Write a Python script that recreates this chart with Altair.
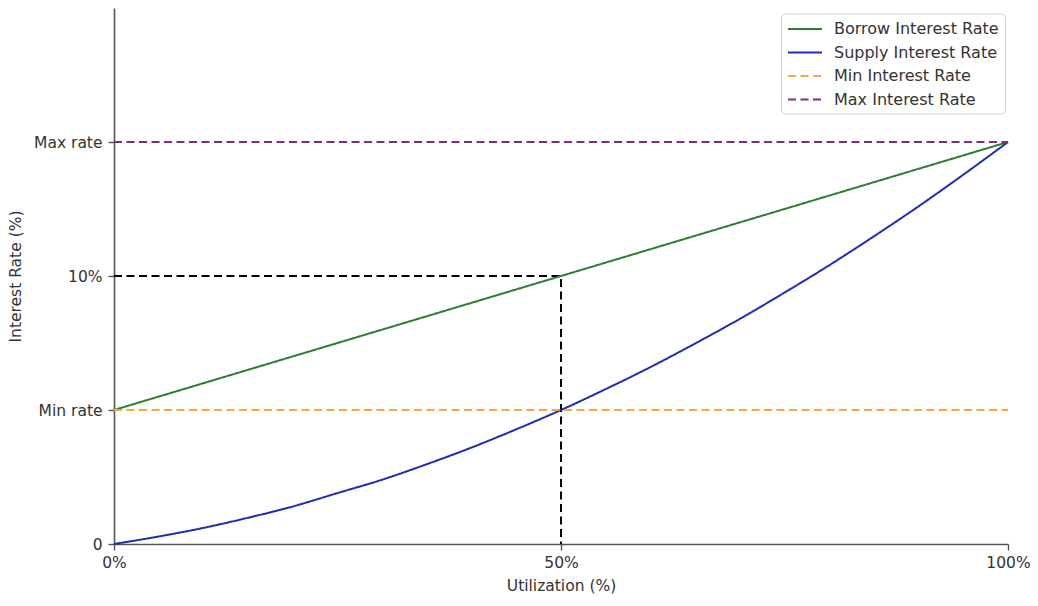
import altair as alt
import pandas as pd

# ---- data ----
series_names = ["Borrow Interest Rate", "Supply Interest Rate", "Min Interest Rate", "Max Interest Rate"]
series_colors = ["#2f7d2f", "#1f2db3", "#f2aa3c", "#7b2d7b"]

util = [0, 5, 10, 15, 20, 25, 30, 35, 40, 45, 50, 55, 60, 65, 70, 75, 80, 85, 90, 95, 100]
borrow = [5.0, 5.5, 6.0, 6.5, 7.0, 7.5, 8.0, 8.5, 9.0, 9.5, 10.0, 10.5, 11.0, 11.5, 12.0, 12.5, 13.0, 13.5, 14.0, 14.5, 15.0]
supply = [0.0, 0.28, 0.6, 0.98, 1.4, 1.9, 2.4, 2.98, 3.6, 4.28, 5.0, 5.78, 6.6, 7.48, 8.4, 9.38, 10.4, 11.48, 12.6, 13.78, 15.0]
min_x = [0, 100]
min_y = [5, 5]
max_x = [0, 100]
max_y = [15, 15]

guide_x = [0, 50, 50]
guide_y = [10, 10, 0]

y_tick_values = [0, 5, 10, 15]
y_tick_labels = ["0", "Min rate", "10%", "Max rate"]
x_tick_values = [0, 50, 100]
x_tick_labels = ["0%", "50%", "100%"]

rows = []
for i, (xs, ys) in enumerate([(util, borrow), (util, supply), (min_x, min_y), (max_x, max_y)]):
    for k, (a, b) in enumerate(zip(xs, ys)):
        rows.append({"series": series_names[i], "u": a, "rate": b, "ord": i, "k": k})
df = pd.DataFrame(rows)
guide = pd.DataFrame({"u": guide_x, "rate": guide_y, "k": list(range(len(guide_x)))})

FONT = "DejaVu Sans"
TXT = "#333333"
DASH = [8, 4.5]

ylabel_expr = " : ".join(
    [f"datum.value == {v} ? '{l}'" for v, l in zip(y_tick_values, y_tick_labels)] + ["''"]
)
xlabel_expr = " : ".join(
    [f"datum.value == {v} ? '{l}'" for v, l in zip(x_tick_values, x_tick_labels)] + ["''"]
)

x_enc = alt.X(
    "u:Q",
    scale=alt.Scale(domain=[0, 100], nice=False, zero=False),
    axis=alt.Axis(values=x_tick_values, labelExpr=xlabel_expr, title="Utilization (%)"),
)
y_enc = alt.Y(
    "rate:Q",
    scale=alt.Scale(domain=[0, 20], nice=False),
    axis=alt.Axis(values=y_tick_values, labelExpr=ylabel_expr, title="Interest Rate (%)"),
)

guides = alt.Chart(guide).mark_line(color="black", strokeWidth=2, strokeDash=DASH).encode(
    x=x_enc, y=y_enc, order="k:Q"
)

lines = alt.Chart(df).mark_line(strokeWidth=2, interpolate="monotone").encode(
    x=x_enc,
    y=y_enc,
    color=alt.Color(
        "series:N",
        scale=alt.Scale(domain=series_names, range=series_colors),
        legend=alt.Legend(
            title=None,
            orient="none",
            legendX=667,
            legendY=5.5,
            symbolType="M-1,0H3",
            symbolStrokeWidth=2,
            symbolSize=289,
            labelFont=FONT,
            labelFontSize=16,
            labelColor=TXT,
            labelOffset=28,
            labelLimit=400,
            rowPadding=5.5,
            padding=6,
            strokeColor="#d0d0d0",
            fillColor="white",
            cornerRadius=4,
        ),
    ),
    strokeDash=alt.StrokeDash(
        "series:N",
        scale=alt.Scale(domain=series_names, range=[[1, 0], [1, 0], DASH, DASH]),
        legend=alt.Legend(title=None),
    ),
    detail="series:N",
    order="k:Q",
)

chart = (
    alt.layer(guides, lines)
    .properties(
        width=894,
        height=536,
        autosize=alt.AutoSizeParams(type="none"),
        padding={"left": 106, "top": 0, "right": 22, "bottom": 56},
    )
    .configure_view(stroke=None)
    .configure_axis(
        grid=False,
        domainColor="#555555",
        domainWidth=1.6,
        tickColor="#555555",
        tickWidth=1.4,
        tickSize=6,
        labelFont=FONT,
        labelFontSize=15.5,
        labelColor=TXT,
        titleFont=FONT,
        titleFontSize=15.5,
        titleFontWeight="normal",
        titleColor=TXT,
    )
    .configure_axisX(labelPadding=5, titlePadding=8, labelFlush=False)
    .configure_axisY(labelPadding=6, titlePadding=10)
)

chart.save("out.html", embed_options={"renderer": "svg", "actions": False})
